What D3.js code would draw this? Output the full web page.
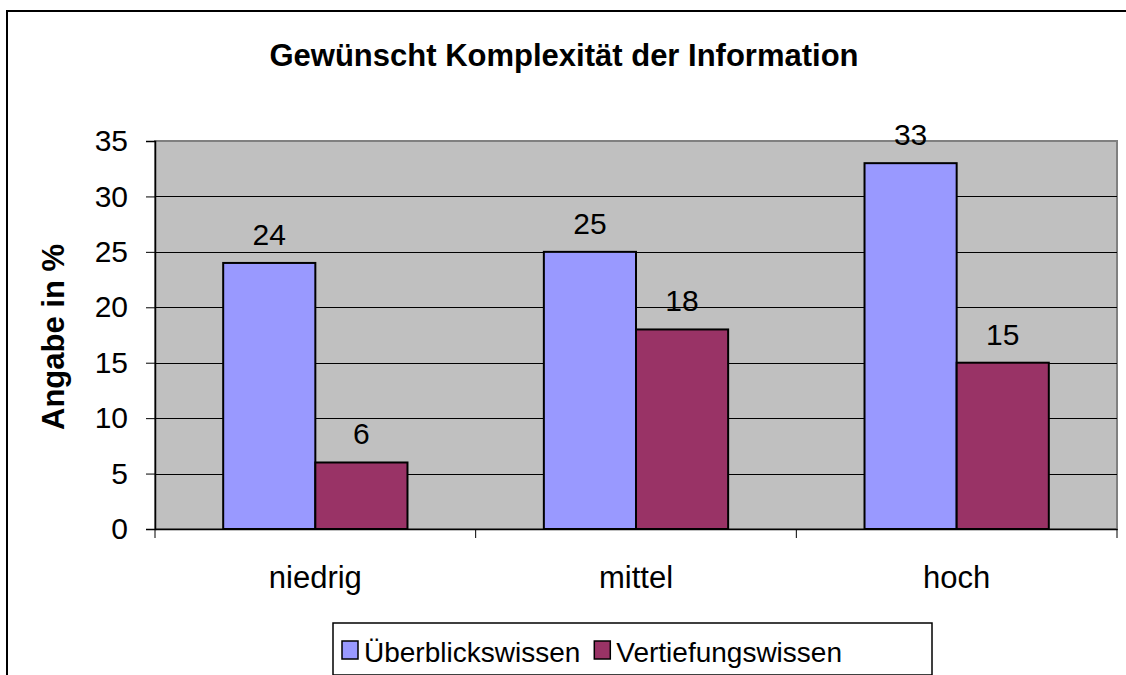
<!DOCTYPE html>
<html>
<head>
<meta charset="utf-8">
<script src="https://cdn.jsdelivr.net/npm/d3@7"></script>
<style>
  html, body { margin: 0; padding: 0; background: #fff; }
  svg { display: block; font-family: "Liberation Sans", Arial, sans-serif; }
</style>
</head>
<body>
<div id="chart"></div>
<script>
// Data
const categories = ['niedrig', 'mittel', 'hoch']
const seriesNames = ['Überblickswissen', 'Vertiefungswissen']
const ueberblick = [24, 25, 33]
const vertiefung = [6, 18, 15]
const yTicks = [0, 5, 10, 15, 20, 25, 30, 35]
const colors = ['#9999FF', '#993366']

const W = 1126, H = 675
const plot = { left: 155, top: 141, right: 1117, bottom: 529 }
const font = '"Liberation Sans", Arial, sans-serif'

const svg = d3.select('#chart')
  .append('svg')
  .attr('width', W)
  .attr('height', H)

// Chart area border (runs off the canvas on right and bottom)
svg.append('rect')
  .attr('x', 7).attr('y', 11)
  .attr('width', 1140).attr('height', 700)
  .attr('fill', '#fff')
  .attr('stroke', '#000')
  .attr('stroke-width', 2)

// Title
svg.append('text')
  .attr('x', 564).attr('y', 66)
  .attr('text-anchor', 'middle')
  .attr('font-size', 31)
  .attr('font-weight', 'bold')
  .text('Gewünscht Komplexität der Information')

// Scales
const x0 = d3.scaleBand()
  .domain(categories)
  .range([plot.left, plot.right])
  .padding(0)
const x1 = d3.scaleBand()
  .domain(seriesNames)
  .range([0, x0.bandwidth()])
  .paddingInner(0)
  .paddingOuter(0.74)
const y = d3.scaleLinear()
  .domain([0, 35])
  .range([plot.bottom, plot.top])

// Plot background
svg.append('rect')
  .attr('x', plot.left).attr('y', plot.top)
  .attr('width', plot.right - plot.left)
  .attr('height', plot.bottom - plot.top)
  .attr('fill', '#C0C0C0')
  .attr('stroke', '#808080')
  .attr('stroke-width', 2)

// Gridlines
svg.append('g')
  .selectAll('line')
  .data(yTicks.filter(t => t > 0 && t < 35))
  .join('line')
  .attr('x1', plot.left).attr('x2', plot.right)
  .attr('y1', d => Math.round(y(d)) + 0.5)
  .attr('y2', d => Math.round(y(d)) + 0.5)
  .attr('stroke', '#000')
  .attr('stroke-width', 1)

// Y axis
const yAxis = svg.append('g')
  .attr('transform', `translate(${plot.left},0)`)
  .call(d3.axisLeft(y).tickValues(yTicks).tickSize(9).tickPadding(18))
yAxis.select('.domain').attr('stroke', '#000').attr('stroke-width', 1.5)
yAxis.selectAll('.tick line').attr('stroke', '#000')
yAxis.selectAll('.tick text')
  .attr('font-size', 30)
  .attr('font-family', font)
  .attr('fill', '#000')

// X axis
const xAxis = svg.append('g')
  .attr('transform', `translate(0,${plot.bottom})`)
  .call(d3.axisBottom(x0).tickSize(0).tickPadding(37))
xAxis.select('.domain').attr('stroke', '#000').attr('stroke-width', 1.5)
xAxis.selectAll('.tick text')
  .attr('font-size', 31)
  .attr('font-family', font)
  .attr('fill', '#000')
// Category separator ticks
svg.append('g')
  .selectAll('line')
  .data(categories.concat(['__end']))
  .join('line')
  .attr('x1', (d, i) => i < categories.length ? x0(d) : plot.right)
  .attr('x2', (d, i) => i < categories.length ? x0(d) : plot.right)
  .attr('y1', plot.bottom)
  .attr('y2', plot.bottom + 9)
  .attr('stroke', '#000')
  .attr('stroke-width', 1)

// Bars
const rows = categories.map((c, i) => ({
  category: c,
  values: [ueberblick[i], vertiefung[i]]
}))
const groups = svg.append('g')
  .selectAll('g')
  .data(rows)
  .join('g')
  .attr('transform', d => `translate(${x0(d.category)},0)`)
groups.selectAll('rect')
  .data(d => d.values.map((v, j) => ({ name: seriesNames[j], value: v, j })))
  .join('rect')
  .attr('x', d => x1(d.name))
  .attr('y', d => y(d.value))
  .attr('width', x1.bandwidth())
  .attr('height', d => y(0) - y(d.value))
  .attr('fill', d => colors[d.j])
  .attr('stroke', '#000')
  .attr('stroke-width', 2)
groups.selectAll('text')
  .data(d => d.values.map((v, j) => ({ name: seriesNames[j], value: v })))
  .join('text')
  .attr('x', d => x1(d.name) + x1.bandwidth() / 2)
  .attr('y', d => y(d.value) - 18)
  .attr('text-anchor', 'middle')
  .attr('font-size', 30)
  .text(d => d.value)

// Y axis title
svg.append('text')
  .attr('transform', `translate(64,${(plot.top + plot.bottom) / 2 + 2}) rotate(-90)`)
  .attr('text-anchor', 'middle')
  .attr('font-size', 31)
  .attr('font-weight', 'bold')
  .text('Angabe in %')

// Legend
const legend = { x: 333, y: 623, w: 599, h: 52 }
svg.append('rect')
  .attr('x', legend.x).attr('y', legend.y)
  .attr('width', legend.w).attr('height', legend.h)
  .attr('fill', '#fff')
  .attr('stroke', '#000')
  .attr('stroke-width', 1.5)
const items = svg.append('g')
let cursor = legend.x + 9
seriesNames.forEach((name, i) => {
  items.append('rect')
    .attr('x', cursor).attr('y', legend.y + 18)
    .attr('width', 16).attr('height', 18)
    .attr('fill', colors[i])
    .attr('stroke', '#000')
    .attr('stroke-width', 1.5)
  const t = items.append('text')
    .attr('x', cursor + 22).attr('y', legend.y + 39)
    .attr('font-size', 28)
    .text(name)
  cursor += 22 + t.node().getComputedTextLength() + 14
})
</script>
</body>
</html>
